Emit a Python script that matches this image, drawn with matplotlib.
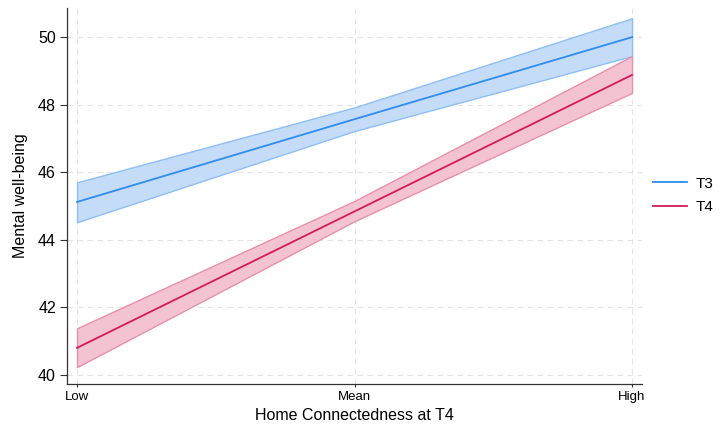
import matplotlib
matplotlib.use("Agg")
import matplotlib.pyplot as plt

plt.rcParams["font.family"] = ["Liberation Sans", "DejaVu Sans"]

# predicted margins at low / mean / high home connectedness
levels = ["Low", "Mean", "High"]
xpos = [-1, 0, 1]
t3_fit = [45.12, 47.57, 50.00]
t3_lo = [44.52, 47.22, 49.44]
t3_hi = [45.70, 47.92, 50.56]
t4_fit = [40.80, 44.84, 48.88]
t4_lo = [40.23, 44.55, 48.35]
t4_hi = [41.38, 45.15, 49.44]
yticks = [40, 42, 44, 46, 48, 50]

fig = plt.figure(figsize=(7.21, 4.25), dpi=100)
ax = fig.add_axes([0.093, 0.0965, 0.7975, 0.8845])

blue = "#2f8cf0"
red = "#d6195a"
ax.fill_between(xpos, t3_lo, t3_hi, facecolor="#c4dcf8", edgecolor="#8fbef5", lw=1, zorder=2)
ax.fill_between(xpos, t4_lo, t4_hi, facecolor="#f3c3d2", edgecolor="#e690ab", lw=1, zorder=2)
ax.plot(xpos, t3_fit, color=blue, lw=1.3, label="T3", zorder=3)
ax.plot(xpos, t4_fit, color=red, lw=1.3, label="T4", zorder=3)

ax.set_xlim(-1.036, 1.036)
ax.set_ylim(39.73, 50.86)
ax.set_xticks(xpos)
ax.set_xticklabels(levels, fontsize=9.5)
ax.set_yticks(yticks)
ax.tick_params(axis="y", labelsize=11.5, length=5, width=0.8, color="#333333", pad=3)
ax.tick_params(axis="x", length=2, width=0.8, color="#333333", pad=3)
ax.grid(True, ls=(0, (5, 4)), color="#e4e4e4", lw=0.8, zorder=0)
ax.set_axisbelow(True)
for s in ["top", "right"]:
    ax.spines[s].set_visible(False)
for s in ["left", "bottom"]:
    ax.spines[s].set_color("#333333")
    ax.spines[s].set_linewidth(0.9)

ax.set_xlabel("Home Connectedness at T4", fontsize=11.5, labelpad=4)
ax.set_ylabel("Mental well-being", fontsize=11.5, labelpad=7)

h, l = ax.get_legend_handles_labels()
fig.legend(h, l, loc="center left", bbox_to_anchor=(653 / 721, 0.54), frameon=False, fontsize=11,
           handlelength=2.2, handletextpad=0.6, labelspacing=0.65, borderpad=0, borderaxespad=0)

fig.savefig("out.png", dpi=100)
